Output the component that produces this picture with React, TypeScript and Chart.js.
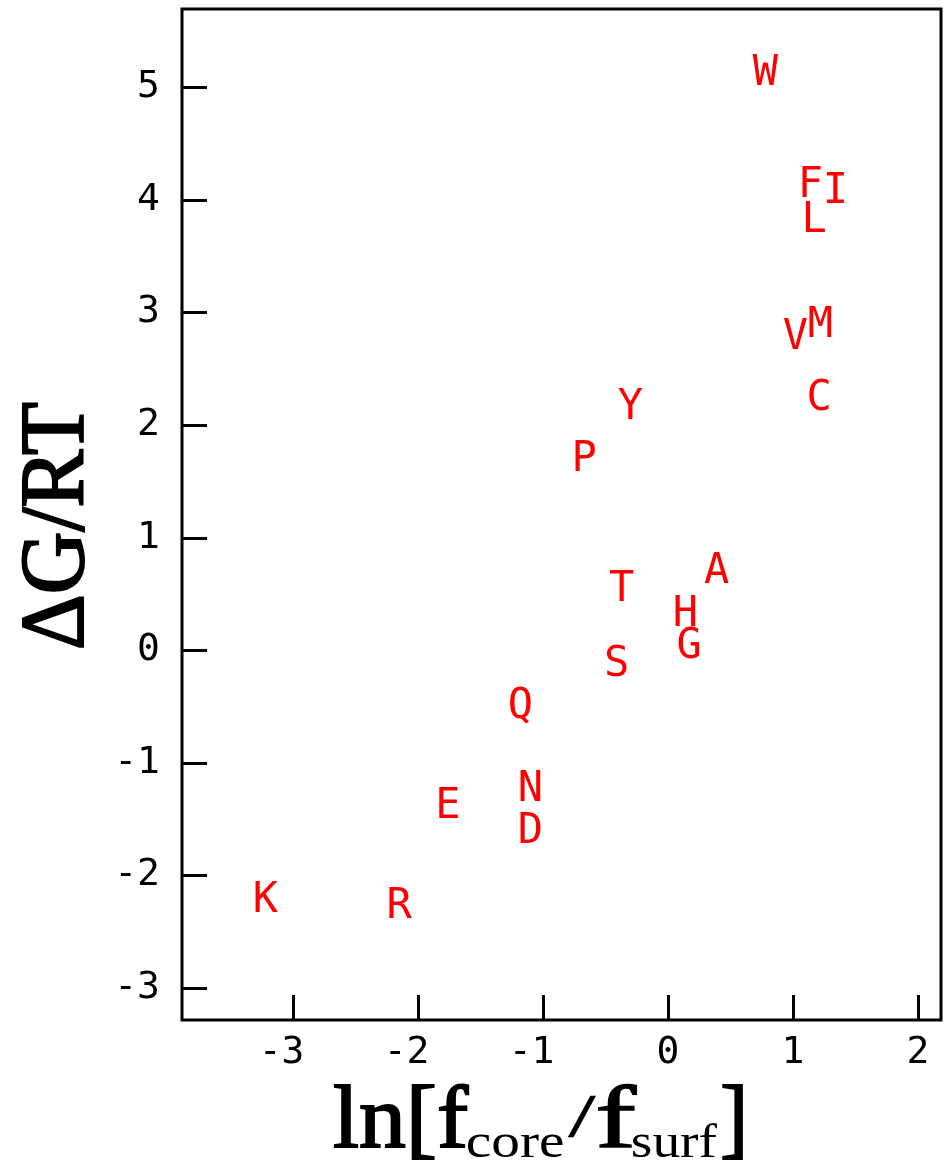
import React, { useEffect, useRef } from 'react';
import { Chart, registerables } from 'chart.js';

Chart.register(...registerables);

const residues = ['W', 'F', 'I', 'L', 'V', 'M', 'C', 'Y', 'P', 'A', 'T', 'H', 'G', 'S', 'Q', 'N', 'E', 'D', 'K', 'R'];
const lnRatio = [0.78, 1.14, 1.34, 1.17, 1.02, 1.22, 1.21, -0.30, -0.67, 0.39, -0.37, 0.14, 0.17, -0.41, -1.18, -1.10, -1.76, -1.10, -3.22, -2.15];
const dGRT = [5.16, 4.16, 4.11, 3.85, 2.81, 2.92, 2.27, 2.19, 1.73, 0.73, 0.57, 0.35, 0.07, -0.09, -0.47, -1.20, -1.35, -1.58, -2.19, -2.24];
const xTicks = [-3, -2, -1, 0, 1, 2];
const yTicks = [-3, -2, -1, 0, 1, 2, 3, 4, 5];

const RED = '#ff0000';
const MONO = '"DejaVu Sans Mono", monospace';
const SERIF = '"Liberation Serif", "DejaVu Serif", serif';

// draw text so its ink spans horizontally from x0 to x1 on baseline by
function fitText(ctx: any, text: string, font: string, x0: number, x1: number, by: number, stroke = 0) {
  ctx.font = font;
  const m = ctx.measureText(text);
  const inkL = -m.actualBoundingBoxLeft;
  const inkW = m.actualBoundingBoxRight + m.actualBoundingBoxLeft;
  const s = (x1 - x0 - stroke) / inkW;
  ctx.save();
  ctx.translate(x0 + stroke / 2, by);
  ctx.scale(s, 1);
  ctx.textAlign = 'left';
  ctx.textBaseline = 'alphabetic';
  ctx.fillText(text, -inkL, 0);
  if (stroke > 0) {
    ctx.lineWidth = stroke / s;
    ctx.lineJoin = 'miter';
    ctx.strokeStyle = ctx.fillStyle;
    ctx.strokeText(text, -inkL, 0);
  }
  ctx.restore();
}

const overlayPlugin = {
  id: 'overlay',
  afterDatasetsDraw(chart: any) {
    const ctx = chart.ctx;
    const meta = chart.getDatasetMeta(0);
    const size = 42;
    ctx.save();
    ctx.fillStyle = RED;
    ctx.font = `${size}px ${MONO}`;
    ctx.textAlign = 'center';
    ctx.textBaseline = 'alphabetic';
    meta.data.forEach((pt: any, i: number) => {
      ctx.fillText(residues[i], pt.x, pt.y + size * 0.365);
    });
    ctx.restore();
  },
  afterDraw(chart: any) {
    const ctx = chart.ctx;
    const { left, right, top, bottom } = chart.chartArea;
    const xs = chart.scales.x;
    const ys = chart.scales.y;
    ctx.save();
    ctx.strokeStyle = '#000';
    ctx.lineWidth = 3;
    ctx.strokeRect(left, top, right - left, bottom - top);
    const tl = 25;
    ctx.beginPath();
    xTicks.forEach((v) => {
      const px = Math.round(xs.getPixelForValue(v)) + 0.5;
      ctx.moveTo(px, bottom);
      ctx.lineTo(px, bottom - tl);
    });
    yTicks.forEach((v) => {
      const py = Math.round(ys.getPixelForValue(v)) + 0.5;
      ctx.moveTo(left, py);
      ctx.lineTo(left + tl, py);
    });
    ctx.stroke();

    ctx.fillStyle = '#000';
    // y title (rotated): ink from y=648 up to y=402, baseline at x=83
    ctx.save();
    ctx.translate(83, 0);
    ctx.rotate(-Math.PI / 2);
    fitText(ctx, '\u0394G/RT', `90px ${SERIF}`, -648, -402, 0, 2);
    ctx.restore();

    // x title with subscripts
    const big = `88px ${SERIF}`;
    const small = `48px ${SERIF}`;
    fitText(ctx, 'ln[f', big, 333, 470, 1147, 2);
    fitText(ctx, 'core', small, 467, 563, 1157);
    fitText(ctx, '/', `62px ${SERIF}`, 568, 597, 1136, 1);
    fitText(ctx, 'f', big, 597, 638, 1147, 2);
    fitText(ctx, 'surf', small, 632, 717, 1157);
    fitText(ctx, ']', big, 722, 743, 1147, 2);
    ctx.restore();
  },
};

export default function App() {
  const ref = useRef<HTMLCanvasElement | null>(null);
  useEffect(() => {
    if (!ref.current) return;
    const chart = new Chart(ref.current, {
      type: 'scatter',
      data: {
        datasets: [
          {
            data: lnRatio.map((v, i) => ({ x: v, y: dGRT[i] })),
            pointRadius: 0,
            pointHoverRadius: 0,
            backgroundColor: RED,
          },
        ],
      },
      options: {
        animation: false,
        responsive: true,
        maintainAspectRatio: false,
        events: [],
        layout: { padding: { top: 9, right: 4, left: 0, bottom: 0 } },
        plugins: { legend: { display: false }, tooltip: { enabled: false } },
        scales: {
          x: {
            type: 'linear',
            min: -3.888,
            max: 2.184,
            afterBuildTicks: (s: any) => {
              s.ticks = xTicks.map((v) => ({ value: v }));
            },
            afterFit: (s: any) => {
              s.height = 143;
              s.paddingLeft = 0;
              s.paddingRight = 0;
              s.paddingTop = 0;
              s.paddingBottom = 0;
            },
            grid: { display: false, drawTicks: false },
            border: { display: false },
            ticks: {
              color: '#000',
              padding: 10,
              maxRotation: 0,
              autoSkip: false,
              font: { family: MONO, size: 38 },
              callback: (v: any) => (Number(v) < 0 ? `${v}\u00a0` : `${v}`),
            },
          },
          y: {
            type: 'linear',
            min: -3.284,
            max: 5.695,
            afterBuildTicks: (s: any) => {
              s.ticks = yTicks.map((v) => ({ value: v }));
            },
            afterFit: (s: any) => {
              s.width = 182;
              s.paddingLeft = 0;
              s.paddingRight = 0;
              s.paddingTop = 0;
              s.paddingBottom = 0;
            },
            grid: { display: false, drawTicks: false },
            border: { display: false },
            ticks: {
              color: '#000',
              padding: 22,
              autoSkip: false,
              font: { family: MONO, size: 38 },
              callback: (v: any) => `${v}`,
            },
          },
        },
      },
      plugins: [overlayPlugin],
    });
    return () => chart.destroy();
  }, []);
  return (
    <div style={{ position: 'fixed', left: 0, top: 0, width: 945, height: 1163, background: '#fff' }}>
      <canvas ref={ref} />
    </div>
  );
}
